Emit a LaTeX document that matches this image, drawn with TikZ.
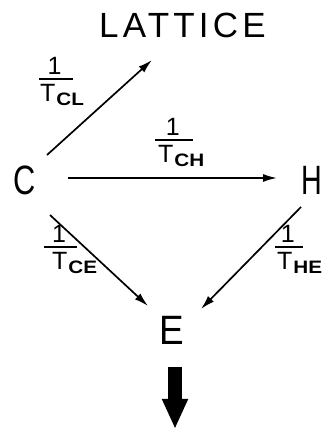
\documentclass[tikz,border=0pt]{standalone}
\usepackage{fontspec}
\setmainfont{Liberation Sans}
\usetikzlibrary{arrows.meta}

% rate label: bar width, offset of T, subscript
\newcommand{\ratefrac}[3]{%
  \vbox{\offinterlineskip
    \hbox to #1{\hfil\kern-3pt 1\hfil}\kern3pt
    \hbox{\vrule width #1 height 1.8pt}\kern5pt
    \hbox{\kern#2 T\kern1pt\raisebox{-4pt}{\fontsize{18}{18}\selectfont\bfseries\scalebox{1.15}[1]{#3}}}}}

\begin{document}
\begin{tikzpicture}[x=1pt,y=1pt,
  bigletter/.style={inner sep=0pt,font=\fontsize{41}{41}\selectfont},
  ratelabel/.style={inner sep=0pt,anchor=base west,font=\fontsize{25}{25}\selectfont},
  flow/.style={-{Latex[length=14pt,width=8pt]},line width=1.7pt},
  drainarrow/.style={-{Triangle[length=30pt,width=24pt]},line width=14pt}]
  \useasboundingbox (0,0) rectangle (323,430);
  \node[bigletter,font=\fontsize{35}{35}\selectfont\addfontfeature{LetterSpace=12}] (L) at (182.5,404.5) {LATTICE};
  \node[bigletter] (C) at (25,250) {\scalebox{0.75}[1]{C}};
  \node[bigletter] (H) at (311.5,250) {\scalebox{0.7}[1]{H}};
  \node[bigletter] (E) at (172,100) {\scalebox{0.9}[1]{E}};
  \coordinate (drain) at (175,1);
  % transfer rates
  \draw[flow] ([shift={(22,25)}]C.center) -- ([shift={(-30.5,-34.5)}]L.center);
  \draw[flow] ([shift={(43,2)}]C.center) -- ([shift={(-34.5,2)}]H.center);
  \draw[flow] ([shift={(25,-35)}]C.center) -- ([shift={(-24,24)}]E.center);
  \draw[flow] ([shift={(-10.5,-27)}]H.center) -- ([shift={(29,21)}]E.center);
  \draw[drainarrow] ([shift={(3,-37)}]E.center) -- (drain);
  % labels
  \node[ratelabel] (tcl) at (39,328) {\ratefrac{34pt}{1pt}{CL}};
  \node[ratelabel] (tch) at (155,267) {\ratefrac{38pt}{3pt}{CH}};
  \node[ratelabel] (tce) at (44,160) {\ratefrac{33pt}{8pt}{CE}};
  \node[ratelabel] (the) at (275,160) {\ratefrac{28pt}{2pt}{HE}};
\end{tikzpicture}
\end{document}
